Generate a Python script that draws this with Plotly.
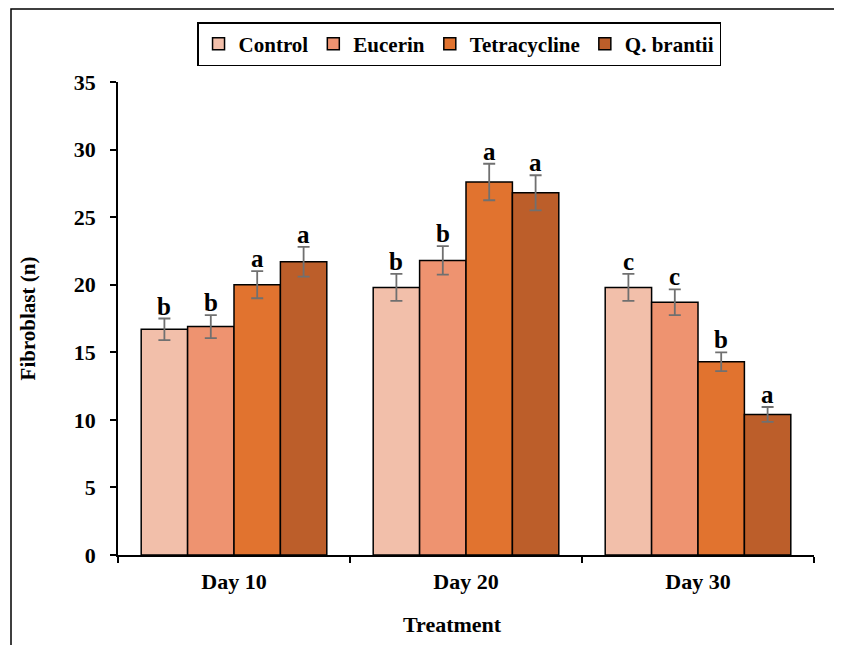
import plotly.graph_objects as go

categories = ["Day 10", "Day 20", "Day 30"]
series = ["Control", "Eucerin", "Tetracycline", "Q. brantii"]
values = {
    "Control": [16.7, 19.8, 19.8],
    "Eucerin": [16.9, 21.8, 18.7],
    "Tetracycline": [20.0, 27.6, 14.3],
    "Q. brantii": [21.7, 26.8, 10.4],
}
errors = {
    "Control": [0.8, 1.0, 1.0],
    "Eucerin": [0.85, 1.05, 0.95],
    "Tetracycline": [1.0, 1.35, 0.7],
    "Q. brantii": [1.1, 1.3, 0.55],
}
letters = {
    "Control": ["b", "b", "c"],
    "Eucerin": ["b", "b", "c"],
    "Tetracycline": ["a", "a", "b"],
    "Q. brantii": ["a", "a", "a"],
}
colors = {
    "Control": "#F2BFAA",
    "Eucerin": "#EE9370",
    "Tetracycline": "#E1732F",
    "Q. brantii": "#BC5E2A",
}

FONT = "Liberation Serif"
# page has an 8px body margin; compensate in figure size/margins
W, H = 834, 637
ML, MR, MT, MB = 110, 28, 74, 90
plot_w = W - ML - MR
plot_h = H - MT - MB

fig = go.Figure()
for s in series:
    fig.add_trace(go.Bar(
        name=s, x=categories, y=values[s],
        marker=dict(color=colors[s], line=dict(color="black", width=1.5)),
        error_y=dict(type="data", array=errors[s], color="#707070", thickness=1.8, width=6),
    ))

bar_w = plot_w / 3 * 0.8 / 4
annotations = []
for i, s in enumerate(series):
    for j, c in enumerate(categories):
        annotations.append(dict(
            x=c, y=values[s][j] + errors[s][j], xref="x", yref="y",
            text=letters[s][j], showarrow=False, yanchor="bottom",
            xshift=(i - 1.5) * bar_w, yshift=-3,
            font=dict(family=FONT, size=25, color="black"),
        ))
annotations.append(dict(
    x=0.48, y=-69 / plot_h, xref="paper", yref="paper", text="Treatment",
    showarrow=False, xanchor="center", yanchor="middle",
    font=dict(family=FONT, size=22, color="black", weight="bold"),
))

fig.update_layout(
    width=W, height=H,
    margin=dict(l=ML, r=MR, t=MT, b=MB),
    paper_bgcolor="white", plot_bgcolor="white",
    barmode="group", bargap=0.2, bargroupgap=0,
    font=dict(family=FONT, size=18, color="black", weight="bold"),
    legend=dict(orientation="h", x=0.49, xanchor="center",
                y=(plot_h + MT - 14) / plot_h, yanchor="top",
                bordercolor="black", borderwidth=1.5, font=dict(size=21, weight="bold"),
                itemwidth=30, tracegroupgap=0),
    annotations=annotations,
    shapes=[dict(type="rect", xref="paper", yref="paper",
                 x0=(3 - ML) / plot_w, x1=1.2, y0=-0.3, y1=(plot_h + MT - 1) / plot_h,
                 line=dict(color="black", width=1.5), layer="below")],
)
fig.update_xaxes(
    showline=True, linecolor="black", linewidth=1.5,
    ticks="outside", tickson="boundaries", ticklen=6, tickcolor="black", tickwidth=1.5,
    ticklabelstandoff=6,
    tickfont=dict(size=22, weight="bold"),
)
fig.update_yaxes(
    range=[0, 35], dtick=5, showgrid=False, zeroline=False,
    showline=True, linecolor="black", linewidth=1.5,
    ticks="outside", ticklen=6, tickcolor="black", tickwidth=1.5,
    ticklabelstandoff=10,
    title=dict(text="Fibroblast (n)", font=dict(size=21, weight="bold"), standoff=32),
    tickfont=dict(size=22, weight="bold"),
)
fig.write_html("out.html")
